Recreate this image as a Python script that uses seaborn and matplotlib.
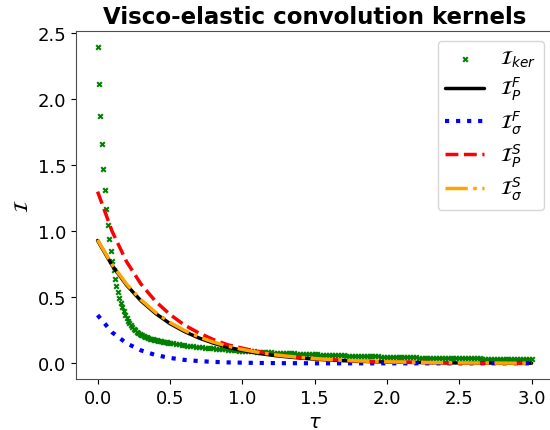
import numpy as np
import matplotlib
matplotlib.use("Agg")
import matplotlib.pyplot as plt
import seaborn as sns

# kernel samples (green crosses), dense near 0 then every 0.02
tau_ker = np.round(np.concatenate([np.arange(0, 0.505, 0.01), np.arange(0.52, 3.005, 0.02)]), 2)
I_ker = [
    2.394, 2.117, 1.869, 1.657, 1.475, 1.311, 1.172, 1.051, 0.942, 0.854,
    0.773, 0.705, 0.642, 0.587, 0.538, 0.495, 0.457, 0.423, 0.393, 0.367,
    0.344, 0.323, 0.305, 0.289, 0.275, 0.262, 0.251, 0.241, 0.232, 0.224,
    0.217, 0.211, 0.205, 0.200, 0.196, 0.192, 0.188, 0.185, 0.182, 0.179,
    0.176, 0.173, 0.171, 0.168, 0.166, 0.164, 0.162, 0.160, 0.158, 0.156,
    0.154,
    0.151, 0.147, 0.144, 0.141, 0.138, 0.135, 0.132, 0.129, 0.127, 0.124,
    0.122, 0.119, 0.117, 0.115, 0.113, 0.111, 0.109, 0.107, 0.105, 0.103,
    0.101, 0.100, 0.098, 0.097, 0.095, 0.094, 0.092, 0.091, 0.090, 0.088,
    0.087, 0.086, 0.085, 0.084, 0.083, 0.082, 0.081, 0.080, 0.079, 0.078,
    0.077, 0.076, 0.075, 0.074, 0.073, 0.072, 0.071, 0.070, 0.069, 0.068,
    0.067, 0.066, 0.065, 0.065, 0.064, 0.063, 0.062, 0.061, 0.061, 0.060,
    0.059, 0.058, 0.058, 0.057, 0.056, 0.056, 0.055, 0.054, 0.054, 0.053,
    0.052, 0.052, 0.051, 0.050, 0.050, 0.049, 0.048, 0.048, 0.047, 0.047,
    0.046, 0.046, 0.045, 0.045, 0.045, 0.044, 0.044, 0.043, 0.043, 0.043,
    0.042, 0.042, 0.041, 0.041, 0.041, 0.040, 0.040, 0.040, 0.039, 0.039,
    0.039, 0.038, 0.038, 0.038, 0.037, 0.037, 0.037, 0.036, 0.036, 0.036,
    0.036, 0.035, 0.035, 0.035, 0.035, 0.034, 0.034, 0.034, 0.034, 0.034,
    0.033, 0.033, 0.033, 0.033, 0.033,
]

# fitted kernels, every 0.1
tau = np.round(np.arange(0, 3.05, 0.1), 1)
I_P_F = [0.930, 0.742, 0.593, 0.473, 0.378, 0.301, 0.241, 0.192, 0.153, 0.122,
         0.098, 0.078, 0.062, 0.050, 0.040, 0.032, 0.025, 0.020, 0.016, 0.013,
         0.010, 0.008, 0.007, 0.005, 0.004, 0.003, 0.003, 0.002, 0.002, 0.001, 0.001]
I_s_F = [0.365, 0.235, 0.152, 0.098, 0.063, 0.041, 0.026, 0.017, 0.011, 0.007,
         0.005, 0.003, 0.002, 0.001, 0.001, 0.0, 0.0, 0.0, 0.0, 0.0,
         0.0, 0.0, 0.0, 0.0, 0.0, 0.0, 0.0, 0.0, 0.0, 0.0, 0.0]
I_P_S = [1.300, 1.000, 0.770, 0.600, 0.470, 0.370, 0.290, 0.230, 0.180, 0.140,
         0.115, 0.091, 0.072, 0.057, 0.045, 0.036, 0.028, 0.022, 0.018, 0.014,
         0.011, 0.009, 0.007, 0.006, 0.004, 0.003, 0.003, 0.002, 0.002, 0.001, 0.001]
I_s_S = [0.935, 0.748, 0.600, 0.481, 0.386, 0.310, 0.249, 0.200, 0.161, 0.130,
         0.105, 0.085, 0.068, 0.055, 0.045, 0.036, 0.029, 0.023, 0.019, 0.015,
         0.012, 0.010, 0.008, 0.006, 0.005, 0.004, 0.003, 0.003, 0.002, 0.002, 0.001]

sns.set_style("ticks")
plt.rcParams['font.family'] = ['DejaVu Sans']
plt.rcParams.update({'text.color': 'black', 'axes.labelcolor': 'black',
                     'xtick.color': 'black', 'ytick.color': 'black',
                     'axes.edgecolor': '0.3', 'xtick.major.size': 3.5,
                     'ytick.major.size': 3.5})

fig = plt.figure(figsize=(5.5, 4.31), dpi=100)
# axes run slightly past the right edge of the picture, as in the original crop
ax = fig.add_axes([0.138, 0.118, 0.868, 0.807])

sns.scatterplot(x=tau_ker, y=I_ker, marker='x', color='green', s=11, linewidth=1.5,
                label=r'$\mathcal{I}_{ker}$', ax=ax, zorder=2)
sns.lineplot(x=tau, y=I_P_F, color='black', linestyle='-', lw=2.5,
             label=r'$\mathcal{I}_P^F$', ax=ax)
sns.lineplot(x=tau, y=I_s_F, color='blue', linestyle=':', lw=3,
             label=r'$\mathcal{I}_\sigma^F$', ax=ax)
sns.lineplot(x=tau, y=I_P_S, color='red', linestyle='--', lw=2.5,
             label=r'$\mathcal{I}_P^S$', ax=ax)
sns.lineplot(x=tau, y=I_s_S, color='orange', linestyle='-.', lw=2.5,
             label=r'$\mathcal{I}_\sigma^S$', ax=ax)

ax.set_xlim(-0.15, 3.15)
ax.spines['right'].set_visible(False)
ax.set_title('Visco-elastic convolution kernels', fontsize=16.5, fontweight='bold')
ax.set_xlabel(r'$\tau$', fontsize=14)
ax.set_ylabel(r'$\mathcal{I}$', fontsize=14)
ax.tick_params(labelsize=13)
ax.legend(fontsize=14, loc='upper right', labelspacing=0.3)

fig.savefig('out.png', dpi=100)
